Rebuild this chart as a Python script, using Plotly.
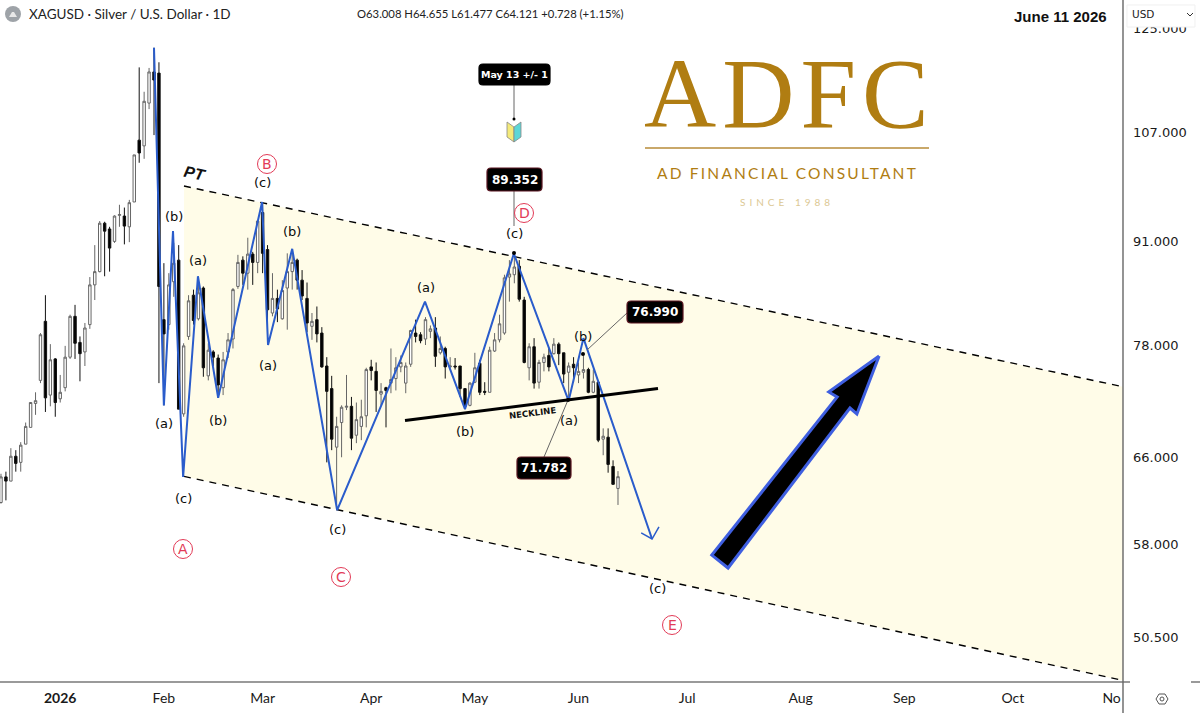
import math
import plotly.graph_objects as go

opens = [61.7,64.1,63.7,66.1,65.5,67.3,69.0,71.5,74.0,80.8,
 72.4,76.4,72.0,73.2,76.6,81.4,78.3,77.2,80.4,85.3,
 87.0,93.5,92.7,91.0,94.6,94.5,93.0,96.5,105.8,104.9,
 111.8,117.1,116.9,81.0,80.4,85.7,88.5,70.4,79.0,84.0,
 81.1,84.9,74.5,77.2,76.5,73.2,77.2,78.7,85.1,88.5,
 86.8,89.3,88.2,95.0,89.9,81.8,83.6,81.1,84.9,87.0,
 88.5,85.9,83.6,80.2,81.0,79.4,75.6,73.1,67.0,69.5,
 71.1,71.2,68.2,69.1,70.2,75.5,75.0,72.5,73.2,73.7,
 74.2,75.5,73.7,75.8,79.4,79.2,78.7,79.6,80.0,77.1,
 77.6,75.5,75.6,75.6,73.1,71.3,73.8,75.9,72.8,72.7,
 77.3,78.6,79.4,86.3,86.6,87.7,83.4,75.4,77.8,73.8,
 76.0,76.8,77.0,78.1,77.1,74.9,75.8,74.6,74.9,75.2,
 72.7,73.8,67.8,68.0,65.1,63.008]
highs = [64.4,64.6,66.9,66.7,67.5,69.5,71.6,72.7,79.4,84.0,
 78.1,76.5,74.6,77.9,81.6,82.8,79.0,80.6,86.3,90.5,
 93.8,93.7,93.0,94.6,96.1,95.7,96.8,103.5,117.9,113.7,
 117.8,121.4,118.8,88.1,86.8,90.8,90.5,78.2,84.0,84.7,
 85.3,85.1,78.2,77.4,76.9,77.2,79.4,84.9,89.2,89.0,
 91.5,89.6,93.8,96.5,90.5,86.8,84.7,85.9,89.4,89.6,
 88.7,87.2,85.6,81.8,82.6,80.1,76.6,74.5,70.1,71.3,
 74.6,72.2,71.6,71.9,75.4,76.3,76.0,73.7,73.3,77.6,
 76.6,76.8,76.0,79.8,81.0,79.5,81.3,80.3,81.3,79.0,
 77.8,76.6,76.5,75.6,73.1,73.8,77.1,76.3,73.8,77.8,
 79.4,81.6,86.6,88.5,89.4,88.5,83.8,78.2,78.8,76.3,
 77.0,77.6,78.8,78.3,77.1,76.0,76.6,76.0,76.8,75.4,
 75.2,74.0,68.9,68.9,65.7,64.655]
lows = [61.6,61.9,63.7,64.6,64.6,67.3,69.0,70.3,73.7,70.6,
 71.2,70.1,71.6,72.8,76.4,76.4,73.9,75.6,79.9,83.4,
 86.9,86.4,87.0,90.8,93.0,90.6,90.9,96.5,102.3,102.9,
 110.8,106.6,73.7,71.3,79.8,83.8,70.9,70.1,78.6,80.4,
 80.9,74.4,74.0,75.6,72.1,72.4,76.5,77.6,84.8,85.3,
 84.7,85.3,86.8,86.8,78.0,81.4,80.7,81.0,79.8,84.7,
 84.7,83.4,79.5,78.6,78.3,75.4,65.5,66.7,61.0,66.0,
 70.8,66.7,67.4,67.7,69.0,74.0,70.6,71.3,69.0,72.6,
 72.9,74.9,72.6,75.5,78.3,78.2,78.0,78.8,75.5,76.9,
 74.2,75.4,75.2,72.2,71.0,71.2,73.7,72.4,72.4,72.7,
 77.2,78.3,79.2,83.2,85.5,83.2,75.9,74.0,73.1,73.1,
 75.0,75.0,76.9,75.7,73.7,72.2,73.8,73.7,74.2,72.6,
 72.6,67.5,66.2,64.5,63.4,61.477]
closes = [64.1,63.7,66.1,65.4,67.2,69.1,71.6,71.8,79.2,72.1,
 76.3,71.6,72.7,76.6,81.4,78.2,77.0,80.0,85.3,87.0,
 93.5,92.4,90.1,94.5,94.7,93.1,96.4,103.5,103.8,112.1,
 117.1,115.7,85.1,79.3,85.3,88.1,70.9,77.9,83.3,80.9,
 84.3,75.4,77.4,76.6,73.5,76.3,78.6,84.7,88.2,86.8,
 89.3,88.2,93.8,89.4,82.2,83.6,82.3,84.6,87.0,88.2,
 85.9,83.9,80.6,80.8,79.3,75.5,72.8,67.8,69.1,71.1,
 71.2,67.9,69.8,70.1,75.2,75.1,72.9,72.8,72.9,74.1,
 75.4,76.0,75.6,79.7,79.0,78.5,81.0,79.9,76.7,77.6,
 75.5,75.6,75.5,73.1,71.2,73.7,75.4,72.7,72.7,77.4,
 78.6,80.5,86.2,86.7,87.6,83.5,76.0,77.8,73.7,76.0,
 76.6,75.5,78.1,77.0,74.7,75.6,75.4,75.0,75.2,72.7,
 73.9,67.7,68.1,65.3,63.393,64.121]
bars = list(range(len(opens)))

price_ticks = [125, 107, 91, 78, 66, 58, 50.5]
price_labels = ["125.000", "107.000", "91.000", "78.000", "66.000", "58.000", "50.500"]
month_ticks = [12, 33, 53, 75, 96, 117, 139, 162, 183, 205, 225]
month_labels = ["<b>2026</b>", "Feb", "Mar", "Apr", "May", "Jun", "Jul", "Aug", "Sep", "Oct", "No"]

wave_bars = [31, 33, 34.85, 36.9, 39.9, 44, 52.9, 54.1, 59, 68.1, 85.9, 94, 103.9, 115, 118, 131.9]
wave_prices = [121.4, 71.3, 92.4, 64.1, 86.4, 72.1, 96.5, 78.0, 90.0, 61.0, 83.2, 70.9, 89.352, 71.782, 78.8, 58.44]
wave_head_bars = [129.7, 131.9, 133.3]
wave_head_prices = [58.97, 58.44, 59.5]
neck_bars = [81.85, 133.1]
neck_prices = [69.7, 73.1]
channel_bars = [37.07, 227.3]
channel_upper = [98.82, 73.3]
channel_lower = [64.15, 47.35]
big_arrow_bars = [177.9, 167.7, 169.4, 144.0, 147.3, 172.0, 173.4, 177.9]
big_arrow_prices = [76.73, 72.73, 72.19, 57.06, 55.97, 71.02, 70.39, 76.73]

W, H = 1200, 713
PL, PT_ = 1123, 682
BAR_PX = 4.936
YTOP = math.log10(78 * math.exp(345 / 672))
YBOT = math.log10(78 * math.exp(-337 / 672))
XRANGE = [-0.2, (PL - 1) / BAR_PX]


def xp(px):
    return px / PL


def yp(py):
    return 1 - py / PT_


RED = "#E23B57"
BLUE = "#2A5CCB"
GOLD = "#B07D12"
INK = "#0a0a0a"
UP = dict(xaxis="x2", yaxis="y2")

fig = go.Figure()
# the channel fill sits on the base axes so that the candles, on the overlay axes, stay above it
fig.add_trace(go.Scatter(
    x=channel_bars + channel_bars[::-1],
    y=channel_upper + channel_lower[::-1],
    fill="toself", fillcolor="#FFFCE8", mode="none", hoverinfo="skip"))
fig.add_trace(go.Candlestick(
    x=bars, open=opens, high=highs, low=lows, close=closes,
    increasing=dict(line=dict(color="#666", width=1), fillcolor="#fff"),
    decreasing=dict(line=dict(color="#111", width=1), fillcolor="#000"),
    whiskerwidth=0, hoverinfo="skip", **UP))
for series in (channel_upper, channel_lower):
    fig.add_trace(go.Scatter(x=channel_bars, y=series, mode="lines",
                             line=dict(color="#000", width=1.4, dash="7px,6px"), hoverinfo="skip", **UP))
fig.add_trace(go.Scatter(x=wave_bars, y=wave_prices, mode="lines",
                         line=dict(color=BLUE, width=2), hoverinfo="skip", **UP))
fig.add_trace(go.Scatter(x=wave_head_bars, y=wave_head_prices, mode="lines",
                         line=dict(color=BLUE, width=1.5), hoverinfo="skip", **UP))
fig.add_trace(go.Scatter(x=neck_bars, y=neck_prices, mode="lines",
                         line=dict(color="#000", width=3), hoverinfo="skip", **UP))
fig.add_trace(go.Scatter(x=big_arrow_bars, y=big_arrow_prices, mode="lines", fill="toself",
                         fillcolor="#000", line=dict(color="#3F5FE0", width=3), hoverinfo="skip", **UP))

shapes = []
ann = []


def text(px, py, s, size=13, color=INK, family="DejaVu Sans", anchor="center", angle=0):
    ann.append(dict(xref="paper", yref="paper", x=xp(px), y=yp(py), text=s, showarrow=False,
                    xanchor=anchor, yanchor="middle", textangle=angle, align="center",
                    font=dict(size=size, color=color, family=family)))


def seg(x0, y0, x1, y1, color="#666", width=1, layer="above"):
    shapes.append(dict(type="line", xref="paper", yref="paper", x0=xp(x0), y0=yp(y0), x1=xp(x1), y1=yp(y1),
                       line=dict(color=color, width=width), layer=layer))


def poly(pts, fill="rgba(0,0,0,0)", line="rgba(0,0,0,0)", width=1):
    path = "M " + " L ".join(f"{xp(a):.5f} {yp(b):.5f}" for a, b in pts) + " Z"
    shapes.append(dict(type="path", xref="paper", yref="paper", path=path, fillcolor=fill,
                       line=dict(color=line, width=width), layer="above"))


def round_box(x0, y0, x1, y1, r=4, border="#000"):
    path = (f"M {xp(x0+r):.5f} {yp(y0):.5f} L {xp(x1-r):.5f} {yp(y0):.5f} Q {xp(x1):.5f} {yp(y0):.5f} {xp(x1):.5f} {yp(y0+r):.5f} "
            f"L {xp(x1):.5f} {yp(y1-r):.5f} Q {xp(x1):.5f} {yp(y1):.5f} {xp(x1-r):.5f} {yp(y1):.5f} "
            f"L {xp(x0+r):.5f} {yp(y1):.5f} Q {xp(x0):.5f} {yp(y1):.5f} {xp(x0):.5f} {yp(y1-r):.5f} "
            f"L {xp(x0):.5f} {yp(y0+r):.5f} Q {xp(x0):.5f} {yp(y0):.5f} {xp(x0+r):.5f} {yp(y0):.5f} Z")
    shapes.append(dict(type="path", xref="paper", yref="paper", path=path, fillcolor="#000",
                       line=dict(color=border, width=1.2), layer="above"))


def dot(px, py, r=2, color="#000"):
    shapes.append(dict(type="circle", xref="paper", yref="paper", x0=xp(px-r), x1=xp(px+r), y0=yp(py-r), y1=yp(py+r),
                       fillcolor=color, line=dict(color=color, width=0), layer="above"))


def wave_mark(px, py, letter):
    r = 9.5
    shapes.append(dict(type="circle", xref="paper", yref="paper", x0=xp(px-r), x1=xp(px+r), y0=yp(py-r), y1=yp(py+r),
                       line=dict(color=RED, width=1), layer="above"))
    text(px, py, letter, size=14, color=RED, family="DejaVu Sans")


def callout(x0, y0, x1, y1, s, size=12, border="#5a1520"):
    round_box(x0, y0, x1, y1, border=border)
    text((x0+x1)/2, (y0+y1)/2, f"<b>{s}</b>", size=size, color="#fff")


# frame
seg(0, 682, 1130, 682, color="#9a9a9a", width=2)
seg(1191, 682, 1200, 682, color="#9a9a9a", width=2)
seg(1123, 0, 1123, 713, color="#666", width=1.4)

# header
shapes.append(dict(type="circle", xref="paper", yref="paper", x0=xp(5), x1=xp(21), y0=yp(6), y1=yp(22),
                   fillcolor="#9ea3a8", line=dict(width=0), layer="above"))
poly([(9, 17), (12, 12), (14, 12), (17, 17)], fill="#e8e8e8")
text(27, 14, "XAGUSD · Silver / U.S. Dollar · 1D", size=13.5, color="#222", family="Lato", anchor="left")
text(355, 14, "O63.008 H64.655 L61.477 C64.121 +0.728 (+1.15%)", size=11.3, color="#222", family="Lato", anchor="left")
text(1060, 17, "<b>June 11 2026</b>", size=15, color="#111", family="Liberation Sans")

# currency box
poly([(1127, 5), (1195, 5), (1195, 27), (1127, 27)], fill="#fff", line="#f0f0f0")
text(1130, 14, "USD", size=10.5, color="#222", family="DejaVu Sans", anchor="left")
seg(1187, 13, 1190, 16, color="#333", width=1)
seg(1190, 16, 1193, 13, color="#333", width=1)

# settings icon
poly([(1156, 699), (1159, 694), (1165, 694), (1168, 699), (1165, 704), (1159, 704)], line="#555", width=1)
shapes.append(dict(type="circle", xref="paper", yref="paper", x0=xp(1160), x1=xp(1164), y0=yp(697), y1=yp(701),
                   line=dict(color="#555", width=1), layer="above"))

# logo
text(789, 94, '<span style="letter-spacing:6px">ADFC</span>', size=100, color=GOLD, family="Liberation Serif")
seg(645, 148, 929, 148, color="#C9A86A", width=2)
text(787, 173, '<span style="letter-spacing:2.2px">AD FINANCIAL CONSULTANT</span>', size=15.5, color=GOLD, family="Lato")
text(787, 202, '<span style="letter-spacing:4px">SINCE 1988</span>', size=10, color="#DCC894", family="Lato")

# callouts
seg(514, 85, 514, 118)
dot(514, 119, 1.5)
callout(479, 64, 550, 85, "May 13 +/- 1", size=9.5, border="#000")
poly([(507, 122), (514, 127), (514, 142), (507, 137)], fill="#F4EA7A", line="#888", width=0.8)
poly([(514, 127), (521, 122), (521, 137), (514, 142)], fill="#5CD6D6", line="#888", width=0.8)
seg(514, 191, 514, 226)
callout(487, 168, 542, 191, "89.352")
dot(514, 253, 2)
seg(587, 350, 627, 313)
dot(583, 354, 2)
callout(627, 301, 683, 323, "76.990")
seg(544, 457, 568, 400)
dot(568, 400, 2)
callout(517, 457, 571, 479, "71.782")

# wave labels
for px, py, s in [(174, 217, "(b)"), (198, 260, "(a)"), (262, 182, "(c)"), (292, 232, "(b)"), (268, 365, "(a)"),
                  (164, 423, "(a)"), (218, 420, "(b)"), (183, 498, "(c)"), (337, 529, "(c)"), (426, 287, "(a)"),
                  (465, 431, "(b)"), (514, 234, "(c)"), (569, 420, "(a)"), (583, 336, "(b)"), (657, 588, "(c)")]:
    text(px, py, s, size=13)
for px, py, s in [(267, 164, "B"), (183, 549, "A"), (341, 577, "C"), (524, 213, "D"), (672, 625, "E")]:
    wave_mark(px, py, s)
text(195, 173, "<b><i>PT</i></b>", size=16, color="#111", family="Liberation Sans", angle=12)
text(532, 413, "<b>NECKLINE</b>", size=8.5, color="#111", angle=-7)

fig.update_layout(
    width=W, height=H, autosize=False, showlegend=False,
    margin=dict(l=0, r=W - PL, t=0, b=H - PT_),
    paper_bgcolor="#fff", plot_bgcolor="#fff",
    shapes=shapes, annotations=ann,
    xaxis=dict(range=XRANGE, tickmode="array", tickvals=month_ticks, ticktext=month_labels,
               rangeslider=dict(visible=False), showgrid=False, zeroline=False, showline=False, ticks="",
               ticklabelstandoff=6, tickangle=0,
               tickfont=dict(size=14, color="#1a1a1a", family="Lato")),
    yaxis=dict(type="log", range=[YBOT, YTOP], side="right", tickmode="array", tickvals=price_ticks,
               ticktext=price_labels, showgrid=False, zeroline=False, showline=False, ticks="",
               ticklabelstandoff=9,
               tickfont=dict(size=13, color="#1a1a1a", family="DejaVu Sans")),
    xaxis2=dict(overlaying="x", range=XRANGE, visible=False, rangeslider=dict(visible=False)),
    yaxis2=dict(overlaying="y", type="log", range=[YBOT, YTOP], visible=False),
)
fig.write_html("out.html", config=dict(displayModeBar=False),
               post_script="document.body.style.margin='0';document.body.style.overflow='hidden';")
